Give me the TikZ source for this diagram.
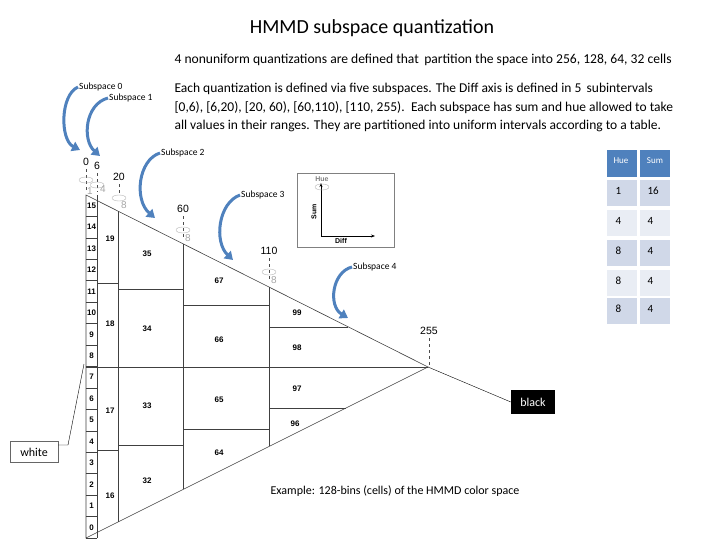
\documentclass[tikz,border=0pt]{standalone}
\usepackage{fontspec}
\setmainfont{Carlito}
\setsansfont{Liberation Sans}
\usetikzlibrary{arrows.meta}
\definecolor{bl}{RGB}{79,129,189}
\definecolor{r1}{RGB}{208,216,232}
\definecolor{r2}{RGB}{233,237,244}
\tikzset{
  cellnum/.style={font=\sffamily\bfseries\fontsize{8}{9}\selectfont},
  tick/.style={font=\sffamily\fontsize{10.5}{11}\selectfont},
  gnum/.style={font=\sffamily\fontsize{10}{11}\selectfont,text=gray!70},
  sub/.style={font=\fontsize{9.5}{10}\selectfont,inner sep=1pt},
  barrow/.style={bl,line width=3pt,-{Triangle[length=8pt,width=10pt]}},
  grid/.style={draw=black!75,line width=0.6pt},
}
\begin{document}
\begin{tikzpicture}[x=1pt,y=-1pt]
\useasboundingbox (0,0) rectangle (720,540);
% text
\node[font=\fontsize{20}{23}\selectfont] (title) at (372,28) {HMMD subspace quantization};
\node[font=\fontsize{13.6}{15}\selectfont,anchor=west] (l1) at (171,60) {4 nonuniform quantizations are defined that\, partition the space into 256, 128, 64, 32 cells};
\node[font=\fontsize{13.5}{18.5}\selectfont,anchor=north west,align=left] (para) at (171,80) {Each quantization is defined via five subspaces. The Diff axis is defined in 5\, subintervals\\{}[0,6), [6,20), [20, 60), [60,110), [110, 255).\, Each subspace has sum and hue allowed to take\\all values in their ranges. They are partitioned into uniform intervals according to a table.};
\node[font=\fontsize{12}{14}\selectfont] (ex) at (395,491) {Example: 128-bins (cells) of the HMMD color space};
% triangle
\coordinate (A) at (86,195); \coordinate (B) at (428,367); \coordinate (C) at (86,538);
\draw[grid] (A) -- (B) -- (C) -- cycle;
\draw[grid] (86,367) -- (B);
\draw[grid] (97,195) -- (97,538);
\foreach \i in {0,...,15}{
  \pgfmathsetmacro{\yy}{538-(\i+0.5)*21.44}
  \draw[grid] (86,{538-\i*21.44}) -- (97,{538-\i*21.44});
  \node[cellnum,inner sep=0pt] (c\i) at (91.5,\yy) {\i};
}
\foreach \x in {118,183,269}{
  \draw[grid] (\x,{195+0.503*(\x-86)}) -- (\x,{538-0.503*(\x-86)});
}
\draw[grid] (97,283) -- (118,283); \draw[grid] (97,450) -- (118,450);
\draw[grid] (118,289) -- (183,289); \draw[grid] (118,445) -- (183,445);
\draw[grid] (183,305) -- (269,305); \draw[grid] (183,429) -- (269,429);
\draw[grid] (269,327) -- (348,327); \draw[grid] (269,408) -- (346,408);
\foreach \t/\x/\y in {19/110/239,18/110/324,17/110/411,16/110/496,35/147/254,34/147/329,33/147/406,32/147/481,67/219/281,66/219/340,65/219/400,64/219/453,99/297/313,98/297/348,97/297/389,96/295/424}
  \node[cellnum] (n\t) at (\x,\y) {\t};
% ticks
\foreach \t/\x/\y/\b in {0/86/162/192,6/97/166/192,20/119/177/195,60/183/209/240,110/269/251/282,255/429/331/367}{
  \node[tick] (t\t) at (\x,\y) {\t};
  \draw[dashed,black!70] (t\t.south) -- (\x,\b);
}
\foreach \x/\y in {86/180,97/185,119/198,183/230,269/272}
  \draw[gray!60] (\x,\y) ellipse (7pt and 3pt);
\node[gnum] (g1) at (90,191) {1};
\node[gnum] (g4) at (103,189) {4};
\node[gnum] (g8a) at (124,205) {8};
\node[gnum] (g8b) at (188,238) {8};
\node[gnum] (g8c) at (274,280) {8};
% subspace arrows
\node[sub,anchor=west] (s0) at (78,87) {Subspace 0};
\node[sub,anchor=west] (s1) at (108,98) {Subspace 1};
\node[sub,anchor=west] (s2) at (160,153) {Subspace 2};
\node[sub,anchor=west] (s3) at (240,195) {Subspace 3};
\node[sub,anchor=west] (s4) at (352,267) {Subspace 4};
\draw[barrow] (s0.west) .. controls (60,95) and (60,140) .. (80,150);
\draw[barrow] (s1.west) .. controls (85,104) and (82,140) .. (100,156);
\draw[barrow] (s2.west) .. controls (138,160) and (134,200) .. (155,218);
\draw[barrow] (s3.west) .. controls (218,203) and (214,242) .. (233,260);
\draw[barrow] (s4.west) .. controls (332,272) and (328,306) .. (348,318);
% inset
\draw[black!50] (297,173) rectangle (394,247);
\coordinate (o) at (321,236);
\draw[line width=0.9pt,-{Stealth[length=4pt]}] (o) -- (321,183);
\draw[line width=0.9pt,-{Stealth[length=4pt]}] (o) -- (375,236);
\node[font=\sffamily\bfseries\fontsize{7}{8}\selectfont,text=gray] (hue) at (322,179) {Hue};
\draw[gray!60] (322,187) ellipse (7pt and 3pt);
\node[font=\sffamily\bfseries\fontsize{7}{8}\selectfont,rotate=90] (sum) at (314,212) {Sum};
\node[font=\sffamily\bfseries\fontsize{7}{8}\selectfont] (diff) at (341,241) {Diff};
% table
\fill[bl] (607,150) rectangle (637,177); \fill[bl] (640,150) rectangle (670,177);
\node[font=\fontsize{9}{10}\selectfont,text=white] (th1) at (621,161) {Hue};
\node[font=\fontsize{9}{10}\selectfont,text=white] (th2) at (655,161) {Sum};
\foreach \y/\a/\b/\c in {180/1/16/r1,210/4/4/r2,240/8/4/r1,270/8/4/r2,298/8/4/r1}{
  \fill[\c] (607,\y) rectangle (637,\y+26); \fill[\c] (640,\y) rectangle (670,\y+26);
  \node[font=\fontsize{11}{12}\selectfont,anchor=west] at (612,\y+11) {\a};
  \node[font=\fontsize{11}{12}\selectfont,anchor=west] at (644,\y+11) {\b};
}
% black/white
\node[fill=black,text=white,font=\fontsize{12}{14}\selectfont,minimum width=44pt,minimum height=24pt,inner sep=1pt] (blk) at (533,402) {black};
\draw (B) -- (blk.west);
\node[draw=black!60,fill=white,font=\fontsize{12}{14}\selectfont,minimum width=48pt,minimum height=21pt,inner sep=1pt] (wht) at (34,452) {white};
\coordinate (wk) at (68,445);
\draw (wht.east |- wk) -- (wk) -- (84,364);
\end{tikzpicture}
\end{document}
